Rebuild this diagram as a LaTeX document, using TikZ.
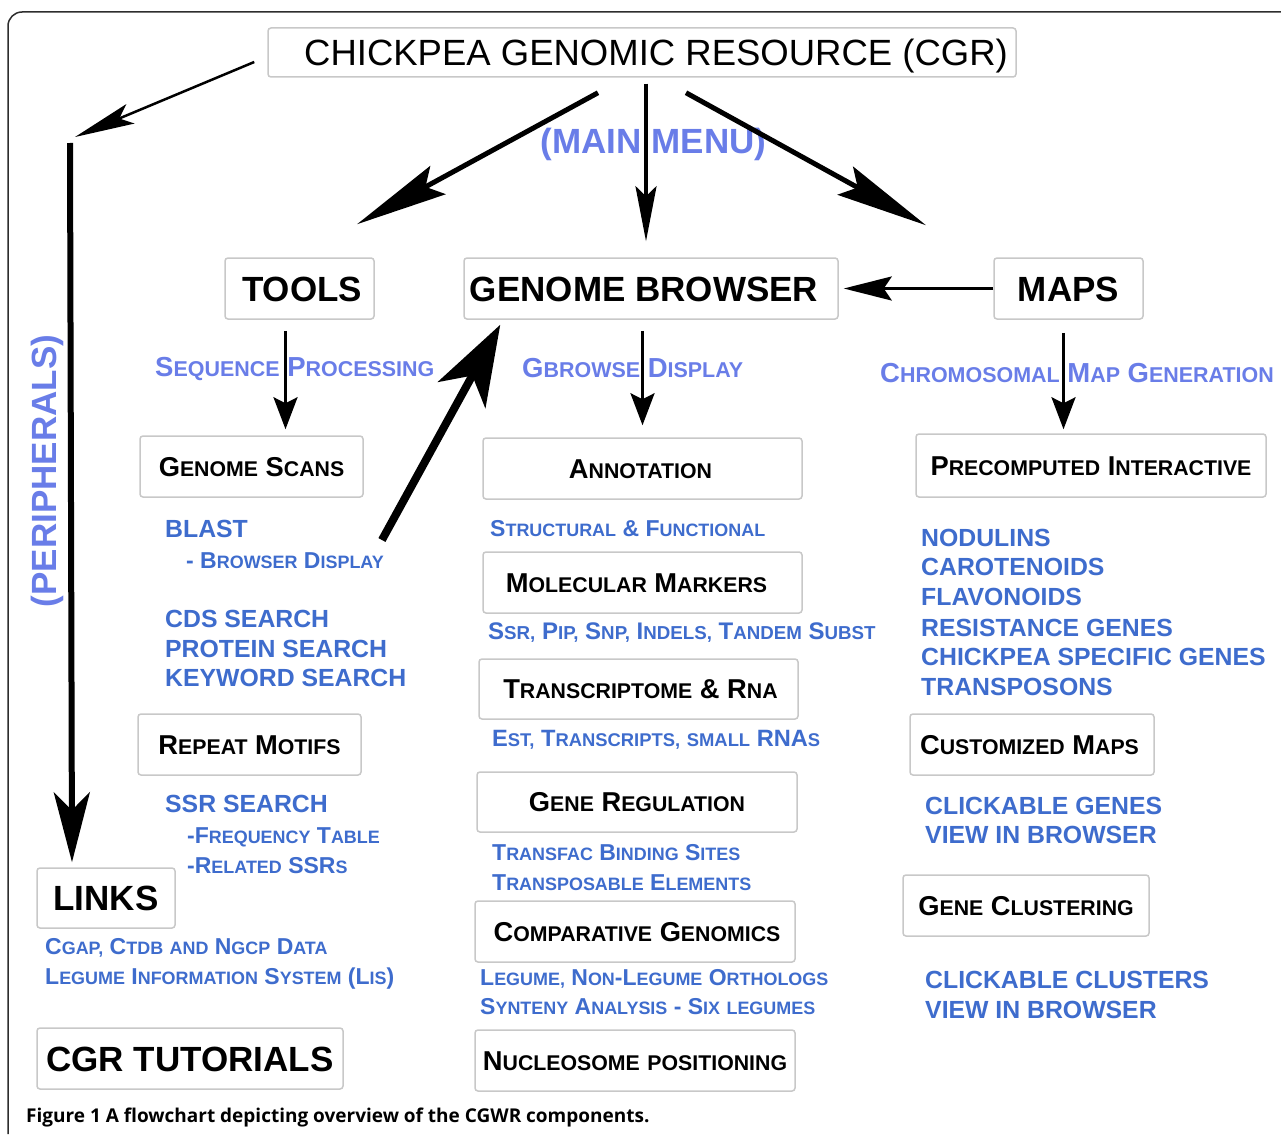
\documentclass[tikz,border=0pt]{standalone}
\usepackage{fontspec}
\setmainfont{Liberation Sans}
\newfontfamily\capfont{Open Sans}
\usepackage{graphicx}
\usetikzlibrary{arrows.meta}
\definecolor{boxgray}{RGB}{200,200,200}
\definecolor{lblue}{RGB}{105,125,232}
\definecolor{dblue}{RGB}{62,108,205}
\definecolor{framec}{RGB}{45,45,45}
\newcommand\lc[1]{\scalebox{0.78}{\MakeUppercase{#1}}}
\newcommand\fsz[1]{\fontsize{#1}{#1}\selectfont}
\begin{document}
\begin{tikzpicture}[x=1pt,y=-1pt,
  boxbase/.style={draw=boxgray, line width=1.5pt, rounded corners=3pt, inner sep=0pt, text depth=0pt},
  bigbox/.style 2 args={boxbase, minimum width=#1, minimum height=#2, font=\bfseries\fsz{35}, text height=25pt},
  scbox/.style 2 args={boxbase, minimum width=#1, minimum height=#2, font=\bfseries\fsz{27.3}, text height=19.6pt},
  mainlbl/.style={inner sep=0pt, text=lblue, font=\bfseries\fsz{35}, text height=25pt, text depth=0pt},
  ltext/.style={anchor=west, inner sep=0pt, text=lblue, font=\bfseries\fsz{27.5}, text height=19.7pt, text depth=0pt},
  dtext/.style={anchor=west, inner sep=0pt, text=dblue, font=\bfseries\fsz{24.8}, text height=17.8pt, text depth=0pt},
  dsc/.style={anchor=west, inner sep=0pt, text=dblue, font=\bfseries\fsz{23}, text height=16.5pt, text depth=0pt},
  arrbig/.style={line width=5pt, -{Stealth[length=92pt,width=32pt,inset=14pt]}},
  arrmid/.style={line width=4pt, -{Stealth[length=55pt,width=21pt,inset=10pt]}},
  arrsmall/.style={line width=3pt, -{Stealth[length=32pt,width=24pt,inset=6pt]}},
  arrside/.style={line width=3pt, -{Stealth[length=48pt,width=24pt,inset=8pt]}},
  arrthin/.style={line width=2.5pt, -{Stealth[length=60pt,width=21pt,inset=12pt]}},
  arrlong/.style={line width=6pt, -{Stealth[length=70pt,width=36pt,inset=18pt]}},
  arrblast/.style={line width=8pt, -{Stealth[length=80pt,width=54pt,inset=22pt]}},
]
\useasboundingbox[fill=white] (0,0) rectangle (1281,1134);
% frame
\draw[framec, line width=1.5pt, rounded corners=14pt] (1281,12) -- (8,12) -- (8,1134);

% top level
\node[boxbase, minimum width=748, minimum height=49, font=\fsz{36.5}, text height=26pt] (title) at (642,52.5) {\hspace*{28pt}CHICKPEA GENOMIC RESOURCE (CGR)};
\node[mainlbl] (mainmenu) at (653.5,141) {(MAIN MENU)};
\node[mainlbl, rotate=90] (periph) at (44,471) {(PERIPHERALS)};

\node[bigbox={149}{61}] (tools) at (299.5,288.5) {\hspace*{5pt}TOOLS};
\node[bigbox={374}{61}] (gb) at (651,288.5) {GENOME BROWSER\hspace*{14pt}};
\node[bigbox={149}{61}] (maps) at (1068.5,288.5) {MAPS};
\node[bigbox={138}{60}] (links) at (106,898) {LINKS};
\node[bigbox={306}{61}] (tutor) at (190,1058.5) {CGR TUTORIALS};

% second level labels
\node[ltext] (seqp) at (155,367) {S\lc{equence} P\lc{rocessing}};
\node[ltext] (gbd) at (522,368) {G\lc{browse} D\lc{isplay}};
\node[ltext] (chrom) at (880,373) {C\lc{hromosomal} M\lc{ap} G\lc{eneration}};

% small caps boxes
\node[scbox={223}{61}] (gscans) at (251.5,466.5) {G\lc{enome} S\lc{cans}};
\node[scbox={223}{61}] (repeat) at (249.5,744.5) {R\lc{epeat} M\lc{otifs}};
\node[scbox={319}{61}] (annot) at (642.5,468.5) {A\lc{nnotation}\hspace*{4pt}};
\node[scbox={319}{61}] (molec) at (642.5,582.5) {M\lc{olecular} M\lc{arkers}\hspace*{12pt}};
\node[scbox={319}{60}] (transc) at (638.5,689) {\hspace*{4pt}T\lc{ranscriptome} \& R\lc{na}};
\node[scbox={320}{60}] (genereg) at (637,802) {G\lc{ene} R\lc{egulation}};
\node[scbox={320}{61}] (comp) at (635,931.5) {\hspace*{4pt}C\lc{omparative} G\lc{enomics}};
\node[scbox={320}{61}] (nucl) at (635,1060.5) {N\lc{ucleosome} \lc{positioning}};
\node[scbox={350}{63}] (precomp) at (1091,465.5) {P\lc{recomputed} I\lc{nteractive}};
\node[scbox={244}{61}] (custom) at (1032,744.5) {C\lc{ustomized} M\lc{aps}\hspace*{5pt}};
\node[scbox={246}{61}] (genecl) at (1026,905.5) {G\lc{ene} C\lc{lustering}};

% left column lists
\node[dtext] (blast) at (165,528.5) {BLAST};
\node[dsc] (bdisp) at (186,560) {- B\lc{rowser} D\lc{isplay}};
\node[dtext] (cds) at (165,618.5) {CDS SEARCH};
\node[dtext] (prot) at (165,648.7) {PROTEIN SEARCH};
\node[dtext] (keyw) at (165,678) {KEYWORD SEARCH};
\node[dtext] (ssr) at (165,804) {SSR SEARCH};
\node[dsc] (freq) at (187,835) {-F\lc{requency} T\lc{able}};
\node[dsc] (rel) at (187,865) {-R\lc{elated} SSR\lc{s}};
\node[dsc] (cgap) at (45,946) {C\lc{gap,} C\lc{tdb} \lc{and} N\lc{gcp} D\lc{ata}};
\node[dsc] (lis) at (45,976) {L\lc{egume} I\lc{nformation} S\lc{ystem} (L\lc{is})};

% middle column lists
\node[dsc] (struct) at (490,528.7) {S\lc{tructural} \& F\lc{unctional}};
\node[dsc, font=\bfseries\fsz{24}, text height=17.2pt] (ssrpip) at (488,631) {S\lc{sr,} P\lc{ip,} S\lc{np,} I\lc{ndels,} T\lc{andem} S\lc{ubst}};
\node[dsc, font=\bfseries\fsz{23.6}, text height=16.9pt] (est) at (492,738) {E\lc{st,} T\lc{ranscripts,} \lc{small} RNA\lc{s}};
\node[dsc] (transfac) at (492,852) {T\lc{ransfac} B\lc{inding} S\lc{ites}};
\node[dsc] (transp) at (492,882) {T\lc{ransposable} E\lc{lements}};
\node[dsc] (legume) at (480,977) {L\lc{egume,} N\lc{on}-L\lc{egume} O\lc{rthologs}};
\node[dsc] (synteny) at (480,1006) {S\lc{ynteny} A\lc{nalysis} - S\lc{ix} \lc{legumes}};

% right column lists
\node[dtext] (nod) at (921,538) {NODULINS};
\node[dtext] (car) at (921,567) {CAROTENOIDS};
\node[dtext] (flav) at (921,597) {FLAVONOIDS};
\node[dtext] (res) at (921,627.5) {RESISTANCE GENES};
\node[dtext] (chick) at (921,657) {CHICKPEA SPECIFIC GENES};
\node[dtext] (tpos) at (921,687) {TRANSPOSONS};
\node[dtext] (clg) at (925,806) {CLICKABLE GENES};
\node[dtext] (vib1) at (925,835) {VIEW IN BROWSER};
\node[dtext] (clc) at (925,980) {CLICKABLE CLUSTERS};
\node[dtext] (vib2) at (925,1010) {VIEW IN BROWSER};

% caption
\node[anchor=west, inner sep=0pt, font=\capfont\bfseries\fsz{19}, text height=13.6pt, text depth=0pt] (cap) at (26,1116) {Figure 1 A flowchart depicting overview of the CGWR components.};

% free ends
\coordinate (perA) at (75,137);
\coordinate (perB) at (70,143);

% connectors
\draw[arrthin] ([shift={(-13,9.5)}]title.west) -- (perA);
\draw[arrlong] (perB) -- ([shift={(-34,-5)}]links.north);
\draw[arrbig] ([shift={(-44,15)}]title.south) -- ([shift={(57.5,-33)}]tools.north);
\draw[arrmid] ([shift={(4,6)}]title.south) -- ([shift={(-5,-16)}]gb.north);
\draw[arrbig] ([shift={(44,15)}]title.south) -- ([shift={(-142.5,-32)}]maps.north);
\draw[arrside] (maps.west) -- ([xshift=5]gb.east);
\draw[arrsmall, shorten <=11pt, shorten >=6pt] ([xshift=-14]tools.south) -- ([xshift=-14]tools.south |- gscans.north);
\draw[arrsmall, shorten <=11pt, shorten >=12pt] (annot.north |- gb.south) -- (annot.north);
\draw[arrsmall, shorten <=13pt, shorten >=4pt] ([xshift=-5]maps.south) -- ([xshift=-5]maps.south |- precomp.north);
\draw[arrblast] ([shift={(-2,-20)}]bdisp.east) -- ([shift={(37,5)}]gb.south west);
\end{tikzpicture}
\end{document}
